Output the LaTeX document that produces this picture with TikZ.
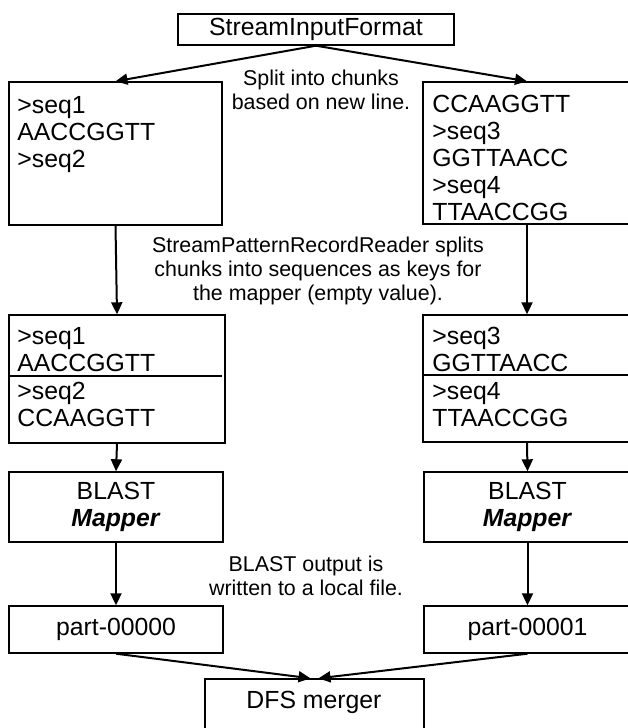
\documentclass[tikz,border=0pt]{standalone}
\usepackage{fontspec}
\setmainfont{Liberation Sans}
\usetikzlibrary{arrows.meta}

\tikzset{
  box/.style={draw,line width=0.7pt,inner sep=0pt,align=center,font=\fontsize{12.4}{13.5}\selectfont},
  seq/.style={anchor=north west,align=left,inner sep=0pt,font=\fontsize{12.4}{13.5}\selectfont},
  note/.style={align=center,inner sep=0pt,font=\fontsize{10.7}{12}\selectfont},
  arr/.style={-{Triangle[length=6pt,width=5.5pt]},line width=1pt}
}

\begin{document}
\begin{tikzpicture}[x=0.5pt,y=-0.5pt]
  \useasboundingbox (0,0) rectangle (627,728);

  \node[box,minimum width=138pt,minimum height=15.5pt] (fmt) at (316,29.5) {StreamInputFormat};

  \node[box,minimum width=106.5pt,minimum height=71.5pt] (chunkL) at (115.5,153.5) {};
  \node[box,minimum width=104pt,minimum height=71pt] (chunkR) at (527,153) {};
  \node[seq] (chunkLtxt) at (17,96) {>seq1\\AACCGGTT\\>seq2};
  \node[seq] (chunkRtxt) at (432,95) {CCAAGGTT\\>seq3\\GGTTAACC\\>seq4\\TTAACCGG};
  \node[note] (splitnote) at (321,90) {Split into chunks\\based on new line.};

  \node[box,minimum width=108pt,minimum height=64pt] (recL) at (117,379) {};
  \node[box,minimum width=104pt,minimum height=63.5pt] (recR) at (527,378.5) {};
  \draw[line width=0.7pt] (9,376) -- (222,376);
  \draw[line width=0.7pt] (423,375) -- (631,375);
  \node[seq] (recLtop) at (17,327) {>seq1\\AACCGGTT};
  \node[seq] (recLbot) at (17,382) {>seq2\\CCAAGGTT};
  \node[seq] (recRtop) at (432,327) {>seq3\\GGTTAACC};
  \node[seq] (recRbot) at (432,382) {>seq4\\TTAACCGG};
  \node[note] (readernote) at (318,271) {StreamPatternRecordReader splits\\chunks into sequences as keys for\\the mapper (empty value).};

  \node[box,minimum width=107pt,minimum height=35pt] (blastL) at (116,507) {BLAST\\\textbf{\textit{Mapper}}};
  \node[box,minimum width=103.5pt,minimum height=35pt] (blastR) at (527.5,507) {BLAST\\\textbf{\textit{Mapper}}};
  \node[note] (blastnote) at (306,576) {BLAST output is\\written to a local file.};

  \node[box,minimum width=107pt,minimum height=23.5pt] (partL) at (116,629.5) {part-00000};
  \node[box,minimum width=103.5pt,minimum height=23.5pt] (partR) at (527.5,629.5) {part-00001};

  \node[box,minimum width=109.5pt,minimum height=33pt] (dfs) at (314.5,712) {};
  \node[seq,anchor=center] (dfstxt) at (314,702) {DFS merger};

  \draw[arr] (fmt.south) -- (chunkL.north);
  \draw[arr] (fmt.south) -- (chunkR.north);
  \draw[arr] (chunkL.south) -- (recL.north);
  \draw[arr] (chunkR.south) -- (recR.north);
  \draw[arr] (recL.south) -- (blastL.north);
  \draw[arr] (recR.south) -- (blastR.north);
  \draw[arr] (blastL.south) -- (partL.north);
  \draw[arr] (blastR.south) -- (partR.north);
  \draw[arr] (partL.south) -- ([xshift=-2pt]dfs.north);
  \draw[arr] (partR.south) -- ([xshift=2pt]dfs.north);
\end{tikzpicture}
\end{document}
